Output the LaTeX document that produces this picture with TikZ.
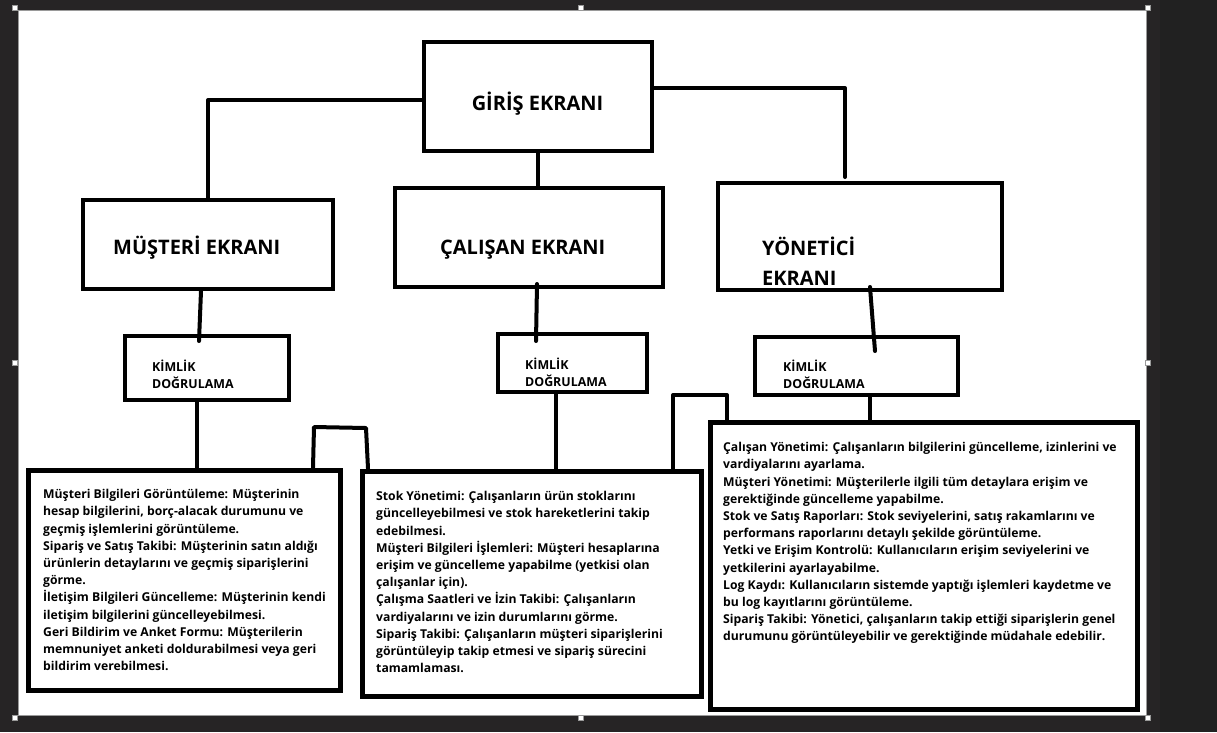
\documentclass[tikz,border=0pt]{standalone}
\usepackage{fontspec}
\setmainfont{Open Sans}
\usetikzlibrary{calc}
\definecolor{frame}{HTML}{262425}
\definecolor{frameR}{HTML}{212121}
\definecolor{edge}{HTML}{9A9A9A}
\begin{document}
\begin{tikzpicture}[x=1pt,y=-1pt,
  box/.style={draw, line width=4pt, fill=white, inner sep=0pt},
  bigbox/.style={draw, line width=5pt, fill=white, inner sep=0pt},
  conn/.style={line width=4pt, line cap=round, line join=round},
  head/.style={inner sep=0pt, font=\bfseries\fontsize{20}{30}\selectfont, align=left},
  kim/.style={inner sep=0pt, font=\bfseries\fontsize{12.4}{16.5}\selectfont, align=left, anchor=north west},
  body/.style={inner sep=0pt, font=\bfseries\fontsize{12.2}{17.2}\selectfont, align=left, anchor=north west},
  handle/.style={fill=white, draw=edge, line width=0.6pt, minimum size=5pt, inner sep=0pt}]
\useasboundingbox (0,0) rectangle (1217,732);
\fill[frame] (0,0) rectangle (1217,732);
\fill[frameR] (1160,0) rectangle (1217,732);
\fill[white, draw=edge, line width=1pt] (18,10.5) rectangle (1146,715.5);
% handles
\foreach \hx/\hy/\hn in {15/7.5/h1,581/7.5/h2,1148/7.5/h3,15/363/h4,1148/363/h5,15/718/h6,581/718/h7,1148/718/h8}
  \node[handle] (\hn) at (\hx,\hy) {};

% boxes
\node[box, minimum width=228pt, minimum height=109pt] (giris) at (538,96.5) {};
\node[box, minimum width=250pt, minimum height=89pt] (musteri) at (208,244.5) {};
\node[box, minimum width=268pt, minimum height=99pt] (calisan) at (529,237.5) {};
\node[box, minimum width=284pt, minimum height=107pt] (yonetici) at (860,236.5) {};
\node[box, minimum width=164pt, minimum height=64pt] (kimlik1) at (207,368) {};
\node[box, minimum width=149pt, minimum height=58pt] (kimlik2) at (572.5,363) {};
\node[box, minimum width=203pt, minimum height=58pt] (kimlik3) at (856.5,366) {};
\node[bigbox, minimum width=312pt, minimum height=220pt] (big1) at (184,580) {};
\node[bigbox, minimum width=339pt, minimum height=225pt] (big2) at (531.5,583.5) {};
\node[bigbox, minimum width=427pt, minimum height=287pt] (big3) at (923.5,565.5) {};

% headings
\node[head] (tgiris) at (537.5,104) {GİRİŞ EKRANI};
\node[head, anchor=west] (tmusteri) at (113,248) {MÜŞTERİ EKRANI};
\node[head, anchor=west] (tcalisan) at (440,250) {ÇALIŞAN EKRANI};
\node[head, anchor=north west] (tyonetici) at (762,234) {\strut YÖNETİCİ\\EKRANI};
\node[kim] (tk1) at (152,360) {KİMLİK\\DOĞRULAMA};
\node[kim] (tk2) at (525,358) {KİMLİK\\DOĞRULAMA};
\node[kim] (tk3) at (783,360) {KİMLİK\\DOĞRULAMA};

% body texts
\node[body] (t1) at (43,486.5) {\strut Müşteri Bilgileri Görüntüleme: Müşterinin\\
hesap bilgilerini, borç-alacak durumunu ve\\
geçmiş işlemlerini görüntüleme.\\
Sipariş ve Satış Takibi: Müşterinin satın aldığı\\
ürünlerin detaylarını ve geçmiş siparişlerini\\
görme.\\
İletişim Bilgileri Güncelleme: Müşterinin kendi\\
iletişim bilgilerini güncelleyebilmesi.\\
Geri Bildirim ve Anket Formu: Müşterilerin\\
memnuniyet anketi doldurabilmesi veya geri\\
bildirim verebilmesi.};
\node[body] (t2) at (376,488.5) {\strut Stok Yönetimi: Çalışanların ürün stoklarını\\
güncelleyebilmesi ve stok hareketlerini takip\\
edebilmesi.\\
Müşteri Bilgileri İşlemleri: Müşteri hesaplarına\\
erişim ve güncelleme yapabilme (yetkisi olan\\
çalışanlar için).\\
Çalışma Saatleri ve İzin Takibi: Çalışanların\\
vardiyalarını ve izin durumlarını görme.\\
Sipariş Takibi: Çalışanların müşteri siparişlerini\\
görüntüleyip takip etmesi ve sipariş sürecini\\
tamamlaması.};
\node[body] (t3) at (723,439.5) {\strut Çalışan Yönetimi: Çalışanların bilgilerini güncelleme, izinlerini ve\\
vardiyalarını ayarlama.\\
Müşteri Yönetimi: Müşterilerle ilgili tüm detaylara erişim ve\\
gerektiğinde güncelleme yapabilme.\\
Stok ve Satış Raporları: Stok seviyelerini, satış rakamlarını ve\\
performans raporlarını detaylı şekilde görüntüleme.\\
Yetki ve Erişim Kontrolü: Kullanıcıların erişim seviyelerini ve\\
yetkilerini ayarlayabilme.\\
Log Kaydı: Kullanıcıların sistemde yaptığı işlemleri kaydetme ve\\
bu log kayıtlarını görüntüleme.\\
Sipariş Takibi: Yönetici, çalışanların takip ettiği siparişlerin genel\\
durumunu görüntüleyebilir ve gerektiğinde müdahale edebilir.};

% connectors
\coordinate (rEnd) at (845,177);
\draw[conn] (giris.west |- 0,100) -| (musteri.north);
\draw[conn] (giris.east |- 0,88) -| (rEnd);
\draw[conn] (giris.south) -- (giris.south |- calisan.north);
\draw[conn] (musteri.south -| 201,0) -- ($(kimlik1.north -| 199,0)+(0,7)$);
\draw[conn] ($(calisan.south -| 537,0)+(0,-5)$) -- ($(kimlik2.north -| 536,0)+(0,9)$);
\draw[conn] ($(yonetici.south -| 870,0)+(0,-5)$) -- ($(kimlik3.north -| 875,0)+(0,16)$);
\draw[conn] (kimlik1.south -| 197,0) -- (big1.north -| 197,0);
\draw[conn] (kimlik2.south -| 556,0) -- (big2.north -| 556,0);
\draw[conn] (kimlik3.south -| 870,0) -- (big3.north -| 870,0);
\draw[conn] (big1.north -| 313,0) -- (314,427) -- (366,428) -- (big2.north -| 368,0);
\draw[conn] (big2.north -| 673,0) -- (673,395) -- (727,395) -- (big3.north -| 727,0);
\end{tikzpicture}
\end{document}
